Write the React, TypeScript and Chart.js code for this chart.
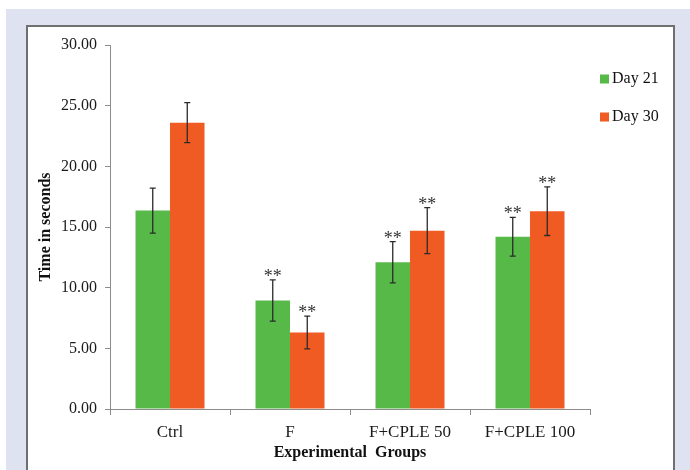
import React, { useEffect, useRef } from 'react';
import { Chart, registerables } from 'chart.js';

Chart.register(...registerables);

const categories = ['Ctrl', 'F', 'F+CPLE 50', 'F+CPLE 100'];
const seriesNames = ['Day 21', 'Day 30'];
const day21 = [16.35, 8.95, 12.1, 14.2];
const day30 = [23.6, 6.3, 14.7, 16.3];
const err21 = [1.85, 1.7, 1.7, 1.6];
const err30 = [1.65, 1.35, 1.9, 2.0];
const sig21 = ['', '**', '**', '**'];
const sig30 = ['', '**', '**', '**'];
const yMin = 0;
const yMax = 30;
const yStep = 5;

const GREEN = '#56b948';
const ORANGE = '#f05b24';
const SERIF = '"Liberation Serif", "DejaVu Serif", serif';

const errors = [err21, err30];
const sigs = [sig21, sig30];

const errorBarPlugin = {
  id: 'errorBars',
  afterDatasetsDraw(chart: any) {
    const ctx = chart.ctx;
    const yScale = chart.scales.y;
    ctx.save();
    chart.data.datasets.forEach((ds: any, di: number) => {
      const meta = chart.getDatasetMeta(di);
      meta.data.forEach((bar: any, i: number) => {
        const v = ds.data[i];
        const e = errors[di][i];
        const x = bar.x;
        const top = yScale.getPixelForValue(v + e);
        const bot = yScale.getPixelForValue(v - e);
        ctx.strokeStyle = '#2b2b2b';
        ctx.lineWidth = 1.3;
        ctx.beginPath();
        ctx.moveTo(x, top);
        ctx.lineTo(x, bot);
        ctx.moveTo(x - 3, top);
        ctx.lineTo(x + 3, top);
        ctx.moveTo(x - 3, bot);
        ctx.lineTo(x + 3, bot);
        ctx.stroke();
        const s = sigs[di][i];
        if (s) {
          ctx.fillStyle = '#333';
          ctx.font = `18px ${SERIF}`;
          ctx.textAlign = 'center';
          ctx.textBaseline = 'alphabetic';
          ctx.fillText(s, x, top + 2);
        }
      });
    });
    ctx.restore();
  },
};

const legendPlugin = {
  id: 'sideLegend',
  afterDraw(chart: any) {
    const ctx = chart.ctx;
    const area = chart.chartArea;
    ctx.save();
    chart.data.datasets.forEach((ds: any, di: number) => {
      const cy = area.top + 34 + di * 38;
      const x = area.right + 10;
      ctx.fillStyle = ds.backgroundColor;
      ctx.fillRect(x, cy - 4.5, 9, 9);
      ctx.fillStyle = '#111';
      ctx.font = `16px ${SERIF}`;
      ctx.textAlign = 'left';
      ctx.textBaseline = 'middle';
      ctx.fillText(ds.label, x + 12, cy);
    });
    ctx.restore();
  },
};

export default function App() {
  const ref = useRef<HTMLCanvasElement>(null);

  useEffect(() => {
    document.body.style.margin = '0';
    const canvas = ref.current;
    if (!canvas) return;
    const chart = new Chart(canvas, {
      type: 'bar',
      data: {
        labels: categories,
        datasets: [
          {
            label: seriesNames[0],
            data: day21,
            backgroundColor: GREEN,
            borderWidth: 0,
            barPercentage: 1,
            categoryPercentage: 0.575,
          },
          {
            label: seriesNames[1],
            data: day30,
            backgroundColor: ORANGE,
            borderWidth: 0,
            barPercentage: 1,
            categoryPercentage: 0.575,
          },
        ],
      },
      options: {
        responsive: false,
        animation: false,
        devicePixelRatio: 1,
        layout: { padding: { left: 30, right: 100, top: 45, bottom: 0 } },
        plugins: {
          legend: { display: false },
          tooltip: { enabled: false },
          title: { display: false },
        },
        scales: {
          x: {
            afterFit: (scale: any) => {
              scale.height = 61;
            },
            grid: {
              offset: true,
              drawOnChartArea: false,
              drawTicks: true,
              tickLength: 6,
              color: '#8c8c8c',
            },
            border: { color: '#8c8c8c', width: 1 },
            ticks: {
              color: '#1a1a1a',
              font: { family: SERIF, size: 17 },
              padding: 7,
            },
            title: {
              display: true,
              text: 'Experimental  Groups',
              color: '#111',
              font: { family: SERIF, size: 16, weight: 'bold' },
              padding: { top: 0, bottom: 8 },
            },
          },
          y: {
            min: yMin,
            max: yMax,
            afterFit: (scale: any) => {
              scale.width = 80;
            },
            grid: {
              drawOnChartArea: false,
              drawTicks: true,
              tickLength: 5,
              color: '#8c8c8c',
            },
            border: { color: '#8c8c8c', width: 1 },
            ticks: {
              stepSize: yStep,
              color: '#1a1a1a',
              font: { family: SERIF, size: 16 },
              padding: 8,
              callback: (v: any) => Number(v).toFixed(2),
            },
            title: {
              display: true,
              text: 'Time in seconds',
              color: '#111',
              font: { family: SERIF, size: 16, weight: 'bold' },
              padding: { top: 6, bottom: 0 },
            },
          },
        },
      },
      plugins: [errorBarPlugin, legendPlugin],
    });
    return () => chart.destroy();
  }, []);

  return (
    <div style={{ position: 'relative', width: 690, height: 470, overflow: 'hidden', background: '#fff' }}>
      <div style={{ position: 'absolute', left: 6, top: 9, width: 684, height: 461, background: '#dfe3f1' }} />
      <div
        style={{
          position: 'absolute',
          left: 26,
          top: 25,
          width: 645,
          height: 460,
          background: '#fff',
          borderTop: '2px solid #6f6f6f',
          borderLeft: '2px solid #6f6f6f',
          borderRight: '2px solid #6f6f6f',
        }}
      />
      <canvas ref={ref} width={690} height={470} style={{ position: 'absolute', left: 0, top: 0 }} />
    </div>
  );
}
